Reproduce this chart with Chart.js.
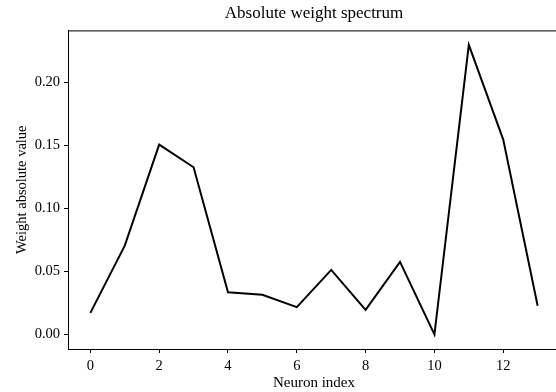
<!DOCTYPE html>
<html>
<head>
<meta charset="utf-8">
<script src="https://cdn.jsdelivr.net/npm/chart.js@4"></script>
<style>
  html, body { margin: 0; padding: 0; background: #fff; overflow: hidden; }
  #chart { display: block; }
</style>
</head>
<body>
<canvas id="chart" width="562" height="392"></canvas>
<script>
'use strict'
// neuron index
const neuronIndex = [0, 1, 2, 3, 4, 5, 6, 7, 8, 9, 10, 11, 12, 13];
// absolute weight per neuron
const weightValues = [0.0172, 0.0706, 0.1508, 0.1328, 0.0336, 0.0315, 0.0217, 0.0513, 0.0196, 0.0577, 0.0000, 0.2300, 0.1548, 0.0228];
// tick labels
const xTicks = [0, 2, 4, 6, 8, 10, 12];
const yTicks = [0.00, 0.05, 0.10, 0.15, 0.20];

const serif = "'Liberation Serif', 'DejaVu Serif', serif";

// frame around the plot area (matplotlib spines)
const frame = {
    id: 'frame',
    afterDraw(chart){
        const a = chart.chartArea;
        const ctx = chart.ctx;
        ctx.save();
        ctx.strokeStyle = '#000';
        ctx.lineWidth = 1;
        ctx.strokeRect(a.left + 0.5, a.top + 0.5, a.right - a.left, a.bottom - a.top);
        ctx.restore();
    }
};

new Chart(document.getElementById('chart'), {
    type: 'line',
    data: {
        datasets: [{
            data: neuronIndex.map((x, i) => ({ x: x, y: weightValues[i] })),
            borderColor: '#000',
            borderWidth: 2,
            pointRadius: 0,
            tension: 0,
            fill: false
        }]
    },
    options: {
        responsive: false,
        animation: false,
        devicePixelRatio: 1,
        layout: { padding: { left: 0, right: 2, top: 0, bottom: 0 } },
        plugins: {
            legend: { display: false },
            tooltip: { enabled: false },
            title: {
                display: true,
                fullSize: false,
                text: 'Absolute weight spectrum',
                color: '#000',
                font: { family: serif, size: 17, weight: 'normal', lineHeight: 1.2 },
                padding: { top: 3, bottom: 7 }
            }
        },
        scales: {
            x: {
                type: 'linear',
                min: -0.65,
                max: 13.65,
                afterBuildTicks: (s) => { s.ticks = xTicks.map(v => ({ value: v })); },
                afterFit: (s) => { s.height = 43; },
                grid: { drawOnChartArea: false, drawTicks: true, tickLength: 4, color: '#000' },
                border: { color: '#000' },
                ticks: { color: '#000', padding: 4, maxRotation: 0, font: { family: serif, size: 14.5 } },
                title: {
                    display: true,
                    text: 'Neuron index',
                    color: '#000',
                    font: { family: serif, size: 15, lineHeight: 1.2 },
                    padding: { top: 0, bottom: 0 }
                }
            },
            y: {
                min: -0.0115,
                max: 0.2415,
                afterBuildTicks: (s) => { s.ticks = yTicks.map(v => ({ value: v })); },
                afterFit: (s) => { s.width = 68; },
                grid: { drawOnChartArea: false, drawTicks: true, tickLength: 4, color: '#000' },
                border: { color: '#000' },
                ticks: {
                    color: '#000',
                    padding: 4,
                    font: { family: serif, size: 14.5 },
                    callback: (v) => v.toFixed(2)
                },
                title: {
                    display: true,
                    text: 'Weight absolute value',
                    color: '#000',
                    font: { family: serif, size: 14.5, lineHeight: 1.2 },
                    padding: { top: 13, bottom: 0 }
                }
            }
        }
    },
    plugins: [frame]
});
</script>
</body>
</html>
